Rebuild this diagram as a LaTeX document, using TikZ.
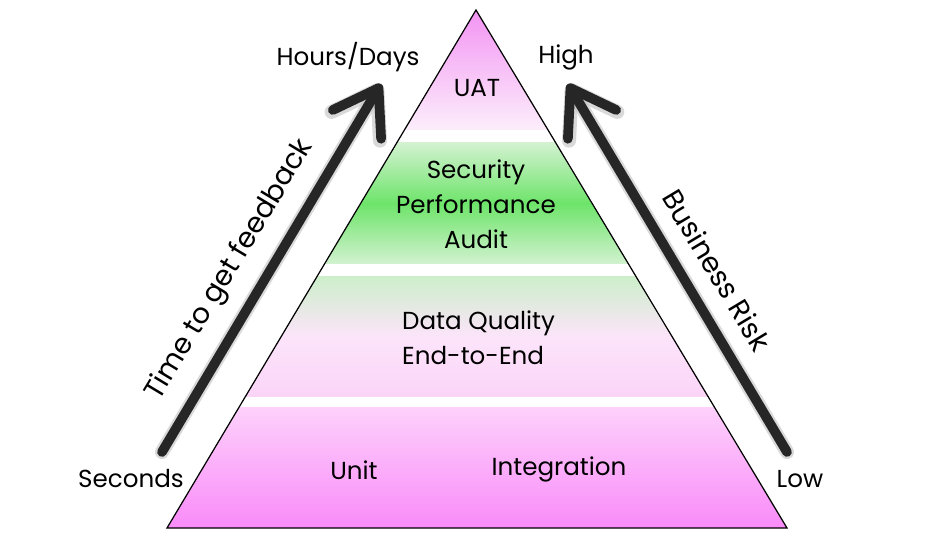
\documentclass[tikz,border=0pt]{standalone}
\usepackage{fontspec}
\setmainfont{Poppins}
\usetikzlibrary{arrows.meta}
\definecolor{uattop}{HTML}{F28CF2}
\definecolor{uatbot}{HTML}{FCEEFB}
\definecolor{secedge}{HTML}{D2F2D0}
\definecolor{secmid}{HTML}{6EE46A}
\definecolor{dqtop}{HTML}{CDEFCB}
\definecolor{dqmid}{HTML}{FCE4FA}
\definecolor{dqbot}{HTML}{FBD4F8}
\definecolor{unittop}{HTML}{FDD0FB}
\definecolor{unitbot}{HTML}{F98BF9}

\begin{document}
\begin{tikzpicture}[
  x=0.02cm, y=-0.02cm,
  every node/.style={font=\fontsize{14}{20}\selectfont},
  axislabel/.style={font=\fontsize{16}{20}\selectfont},
  bigarrow/.style={line width=5.5pt, line cap=round, black!85,
    -{Straight Barb[length=24pt, width=32pt, line cap=round, line join=round]}},
  arrowhalo/.style={bigarrow, line width=8pt, black!25, opacity=0.6}
]
  \useasboundingbox (0,0) rectangle (950,540);

  % pyramid corners
  \coordinate (apex) at (476,10);
  \coordinate (bl) at (167,528);
  \coordinate (br) at (787,528);

  % bands
  \begin{scope}
    \clip (apex) -- (bl) -- (br) -- cycle;
    \shade[top color=uattop, bottom color=uatbot] (0,0) rectangle (950,130);
    \shade[top color=secedge, bottom color=secedge, middle color=secmid] (0,143) rectangle (950,264);
    \shade[top color=dqtop, bottom color=dqbot, middle color=dqmid] (0,277) rectangle (950,397);
    \shade[top color=unittop, bottom color=unitbot] (0,408) rectangle (950,528);
  \end{scope}
  \draw[line width=0.7pt, line join=miter] (apex) -- (bl) -- (br) -- cycle;

  % band labels
  \node (uat) at (477,88) {UAT};
  \node[align=center] (sec) at (476,204) {Security\\Performance\\Audit};
  \node[align=left, anchor=west] (dq) at (396,338) {Data Quality\\End-to-End};
  \node (unit) at (354,470) {Unit};
  \node (integ) at (559,469) {Integration};

  % axis end labels
  \node (hours) at (348,57) {Hours/Days};
  \node (seconds) at (131,479) {Seconds};
  \node (high) at (566,57) {High};
  \node (low) at (800,479) {Low};

  % arrows
  \coordinate (fbstart) at (162,452);
  \coordinate (fbend) at (381,84);
  \coordinate (riskstart) at (787,452);
  \coordinate (riskend) at (568,84);
  \draw[arrowhalo] (fbstart) -- (fbend);
  \draw[arrowhalo] (riskstart) -- (riskend);
  \draw[bigarrow] (fbstart) -- (fbend);
  \draw[bigarrow] (riskstart) -- (riskend);

  \node[axislabel, rotate=59] (fbtext) at (230,270) {Time to get feedback};
  \node[axislabel, rotate=-59] (risktext) at (717,270) {Business Risk};
\end{tikzpicture}
\end{document}
